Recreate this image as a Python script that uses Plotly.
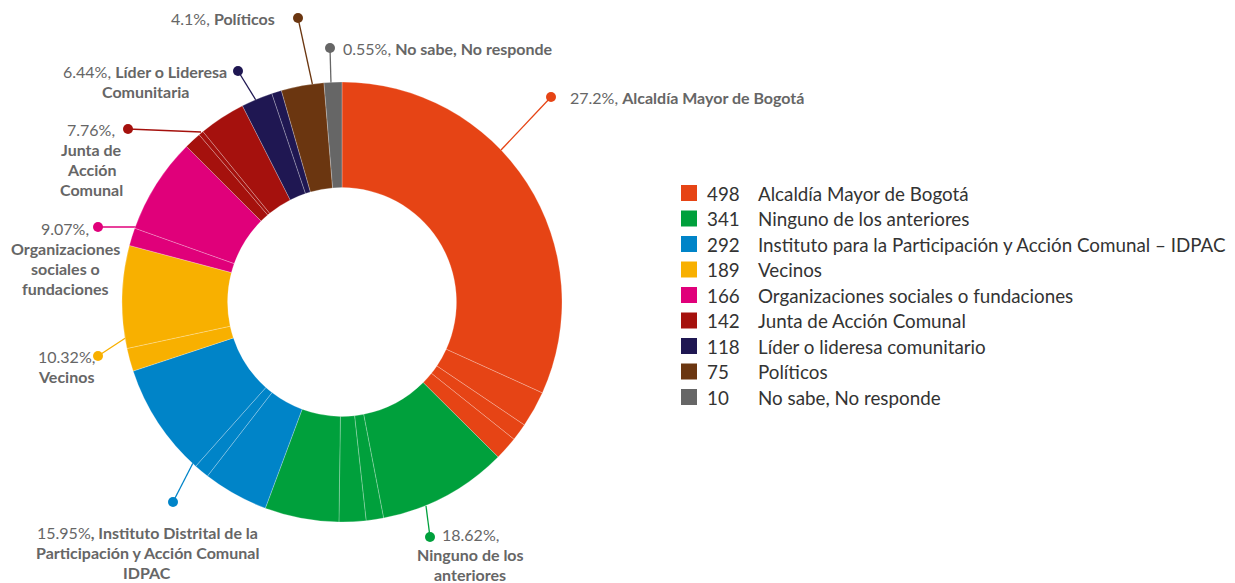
import plotly.graph_objects as go

# categories, legend counts and callout percentages
categories = ["Alcaldía Mayor de Bogotá", "Ninguno de los anteriores",
              "Instituto para la Participación y Acción Comunal – IDPAC", "Vecinos",
              "Organizaciones sociales o fundaciones", "Junta de Acción Comunal",
              "Líder o lideresa comunitario", "Políticos", "No sabe, No responde"]
counts = [498, 341, 292, 189, 166, 142, 118, 75, 10]
percents = ["27.2%", "18.62%", "15.95%", "10.32%", "9.07%", "7.76%", "6.44%", "4.1%", "0.55%"]

# sub slices of each category as drawn in the ring (arc size, clockwise from 12 o'clock)
alcaldia_parts = [114.4, 9.6, 4.6, 6.2]
ninguno_parts = [34.3, 4.6, 7.1, 19.6]
idpac_parts = [17.3, 4.0, 30.0]
vecinos_parts = [6.1, 27.1]
organizaciones_parts = [4.7, 25.4]
junta_parts = [4.5, 1.3, 12.3]
lider_parts = [8.3, 2.6]
politicos_parts = [11.3]
nosabe_parts = [4.7]

parts = [alcaldia_parts, ninguno_parts, idpac_parts, vecinos_parts, organizaciones_parts,
         junta_parts, lider_parts, politicos_parts, nosabe_parts]

colors = ["#E64415", "#00A03C", "#0084C8", "#F8B000", "#E0007A",
          "#A5110D", "#1F1752", "#6B3610", "#666666"]

# callout label text (one entry per line)
callout_lines = [
    ["27.2%, <b>Alcaldía Mayor de Bogotá</b>"],
    ["18.62%,", "<b>Ninguno de los</b>", "<b>anteriores</b>"],
    ["15.95%<b>, Instituto Distrital de la</b>", "<b>Participación y Acción Comunal</b>", "<b>IDPAC</b>"],
    ["10.32%,", "<b>Vecinos</b>"],
    ["9.07%,", "<b>Organizaciones</b>", "<b>sociales o</b>", "<b>fundaciones</b>"],
    ["7.76%,", "<b>Junta de</b>", "<b>Acción</b>", "<b>Comunal</b>"],
    ["6.44%, <b>Líder o Lideresa</b>", "<b>Comunitaria</b>"],
    ["4.1%, <b>Políticos</b>"],
    ["0.55%, <b>No sabe, No responde</b>"],
]

# layout of the callouts in pixels: ring point, dot, text anchor, alignment
callout_ring = [(501, 150), (426, 506), (193, 463), (127, 337), (137, 227),
                (201, 132), (257, 102), (313, 87), (331, 84)]
callout_dot = [(551, 97), (430, 537), (173, 502), (98, 356), (98, 227),
               (128, 129), (238, 71), (298, 18), (330, 48)]
callout_text = [(568, 97, "left"), (470, 534, "center"), (147, 532, "center"),
                (66, 356, "center"), (65, 228, "center"), (91, 129, "center"),
                (145, 71, "center"), (277, 18, "right"), (341, 48, "left")]
line_gap = 20.2

W, H = 1235, 583
cx, cy, R = 342, 302, 220

slice_labels, slice_values, slice_colors, slice_hover = [], [], [], []
for i, cat in enumerate(categories):
    for k, v in enumerate(parts[i]):
        slice_labels.append(f"{cat} ({k + 1})")
        slice_values.append(v)
        slice_colors.append(colors[i])
        slice_hover.append(f"{cat}: {counts[i]} ({percents[i]})")

fig = go.Figure()

fig.add_trace(go.Pie(
    labels=slice_labels,
    values=slice_values,
    marker=dict(colors=slice_colors, line=dict(color="rgba(255,255,255,0.35)", width=0.7)),
    hole=0.52,
    sort=False,
    direction="clockwise",
    rotation=0,
    textinfo="none",
    hovertext=slice_hover,
    hoverinfo="text",
    showlegend=False,
    domain=dict(x=[(cx - R) / W, (cx + R) / W], y=[1 - (cy + R) / H, 1 - (cy - R) / H]),
))

# callout leader lines and dots
for i in range(len(categories)):
    (x0, y0), (x1, y1) = callout_ring[i], callout_dot[i]
    fig.add_trace(go.Scatter(
        x=[x0, x1], y=[y0, y1], mode="lines",
        line=dict(color=colors[i], width=1.3),
        hoverinfo="skip", showlegend=False, cliponaxis=False,
    ))
    fig.add_trace(go.Scatter(
        x=[x1], y=[y1], mode="markers",
        marker=dict(size=10, color=colors[i], opacity=1, line=dict(width=0)),
        hoverinfo="skip", showlegend=False, cliponaxis=False,
    ))

annotations = []
for i, lines in enumerate(callout_lines):
    tx, ty, al = callout_text[i]
    for j, t in enumerate(lines):
        annotations.append(dict(
            x=tx, y=ty + j * line_gap, xref="x", yref="y", text=t, showarrow=False,
            xanchor=al, yanchor="middle",
            font=dict(family="Lato", size=16, color="#666666"),
        ))

# legend on the right
leg_y = [193 + k * 25.5 for k in range(len(categories))]
fig.add_trace(go.Scatter(
    x=[689] * len(categories), y=leg_y, mode="markers",
    marker=dict(symbol="square", size=16, color=colors, line=dict(width=0)),
    hoverinfo="skip", showlegend=False, cliponaxis=False,
))
for k, cat in enumerate(categories):
    annotations.append(dict(x=705, y=leg_y[k], xref="x", yref="y", text=str(counts[k]),
                            showarrow=False, xanchor="left", yanchor="middle",
                            font=dict(family="Lato", size=18.8, color="#333333")))
    annotations.append(dict(x=756, y=leg_y[k], xref="x", yref="y", text=cat,
                            showarrow=False, xanchor="left", yanchor="middle",
                            font=dict(family="Lato", size=18.8, color="#333333")))

fig.update_layout(
    width=W, height=H,
    margin=dict(l=0, r=0, t=0, b=0),
    paper_bgcolor="white", plot_bgcolor="white",
    xaxis=dict(range=[0, W], visible=False, fixedrange=True, domain=[0, 1]),
    yaxis=dict(range=[H, 0], visible=False, fixedrange=True, domain=[0, 1]),
    annotations=annotations,
    showlegend=False,
)

fig.write_html("out.html", config={"displayModeBar": False},
               post_script="document.body.style.margin='0';")
